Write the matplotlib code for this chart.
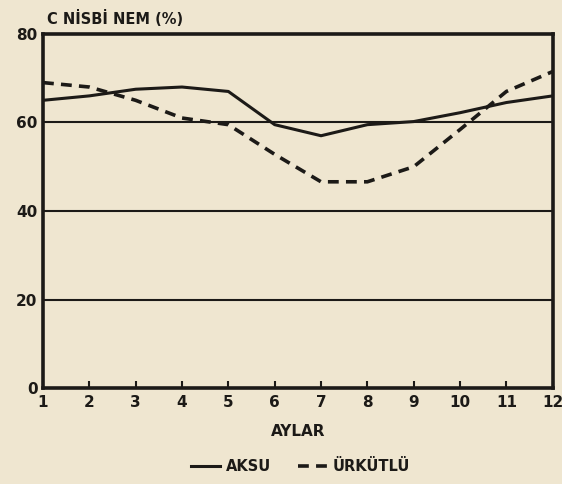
import matplotlib
matplotlib.use("Agg")
import matplotlib.pyplot as plt

months = [1, 2, 3, 4, 5, 6, 7, 8, 9, 10, 11, 12]
aksu = [65, 66, 67.5, 68, 67, 59.5, 57, 59.5, 60.2, 62.2, 64.5, 66]
urkutlu = [69, 68, 65, 61, 59.5, 52.8, 46.6, 46.6, 50, 58.4, 67, 71.5]
yticks = [0, 20, 40, 60, 80]

bg = "#efe6d0"
ink = "#1c1a17"

fig = plt.figure(figsize=(5.62, 4.84), dpi=100, facecolor=bg)
ax = fig.add_axes([0.0765, 0.198, 0.907, 0.732], facecolor=bg)

for y in yticks[1:4]:
    ax.axhline(y, color=ink, lw=1.5, zorder=1)

ax.plot(months, aksu, color=ink, lw=2.2, label="AKSU", zorder=3)
ax.plot(months, urkutlu, color=ink, lw=2.6, ls=(0, (3, 2)), label="ÜRKÜTLÜ", zorder=3)

ax.set_xlim(1, 12)
ax.set_ylim(0, 80)
ax.set_xticks(months)
ax.set_yticks(yticks)
for s in ax.spines.values():
    s.set_linewidth(2.6)
    s.set_color(ink)
ax.tick_params(axis="x", direction="in", length=5, width=1.5, color=ink,
               labelsize=11, pad=5, labelcolor=ink)
ax.tick_params(axis="y", length=0, labelsize=11, pad=4, labelcolor=ink)
for lab in ax.get_xticklabels() + ax.get_yticklabels():
    lab.set_fontweight("bold")

ax.set_xlabel("AYLAR", fontsize=11, fontweight="bold", color=ink, labelpad=10)
fig.text(0.083, 0.962, "C NİSBİ NEM (%)", fontsize=10.5, fontweight="bold",
         color=ink, ha="left", va="center")

leg = fig.legend(loc="center", bbox_to_anchor=(0.535, 0.036), ncol=2, frameon=False,
                 prop={"size": 10.5, "weight": "bold"}, handlelength=2.0,
                 columnspacing=1.8, handletextpad=0.4)
for t in leg.get_texts():
    t.set_color(ink)

fig.savefig("out.png", dpi=100, facecolor=bg)
